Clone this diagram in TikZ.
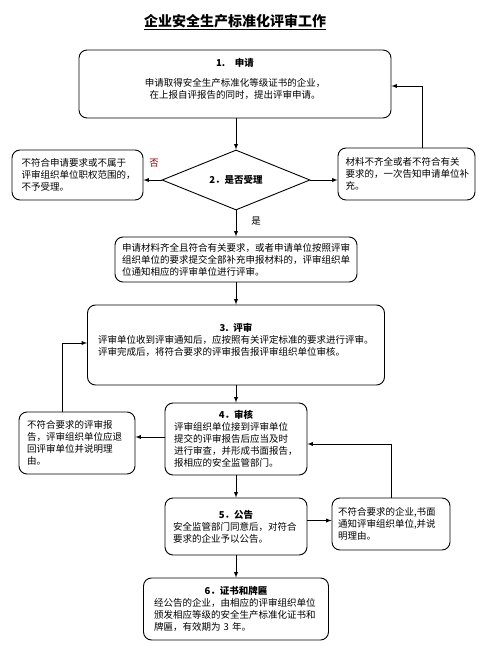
\documentclass[tikz,border=0pt]{standalone}
\usepackage{fontspec}
\setmainfont{Noto Sans CJK SC}
\usepackage{tikz}
\usetikzlibrary{shapes.geometric}
\usetikzlibrary{arrows}
\newcommand{\boxtitle}[1]{{\centering\bfseries #1\par}}
\tikzset{
procbox/.style={ % Sets the properties for each step box
draw, line width=0.9pt, rounded corners=8pt,
align=left, inner sep=0pt,
font=\fontsize{9.5}{12}\selectfont},
sidebox/.style={ % Side boxes for rejected cases
procbox},
choice/.style={ % The decision diamond
diamond, draw, line width=0.9pt, inner sep=0pt,
font=\fontsize{9.5}{12}\selectfont\bfseries},
flow/.style={ % Sets the properties for each connector
draw, ->, >=latex, line width=0.9pt}}

\begin{document}
\begin{tikzpicture}[x=1pt,y=-1pt]
\useasboundingbox (0,0) rectangle (497,652);
\node[font=\fontsize{14}{16}\selectfont\bfseries] (title) at (235,22) {\underline{企业安全生产标准化评审工作}};
\node[procbox, align=center, minimum width=312pt, minimum height=68pt] (apply) at (235,84)
{\textbf{1.　申请}\\[8pt]申请取得安全生产标准化等级证书的企业，\\在上报自评报告的同时，提出评审申请。\\ \mbox{}};
\node[choice, minimum width=148pt, minimum height=60pt, aspect=2.47] (decide) at (236,180) {2．是否受理};
\node[sidebox, text width=112pt, minimum width=131pt, minimum height=50pt] (reject) at (77.5,175)
{不符合申请要求或不属于\\评审组织单位职权范围的，\\不予受理。};
\node[sidebox, text width=122pt, minimum width=137pt, minimum height=52pt] (supplement) at (406.5,174)
{材料不齐全或者不符合有关\\要求的，一次告知申请单位补\\充。};
\node[procbox, text width=228pt, minimum width=242pt, minimum height=45pt] (accept) at (236,259.5)
{申请材料齐全且符合有关要求，或者申请单位按照评审\\组织单位的要求提交全部补充申报材料的，评审组织单\\位通知相应的评审单位进行评审。};
\node[procbox, text width=276pt, minimum width=297pt, minimum height=80pt] (review) at (236,345)
{\boxtitle{3. 评审}评审单位收到评审通知后，应按照有关评定标准的要求进行评审。\\评审完成后，将符合要求的评审报告报评审组织单位审核。\\ \mbox{}};
\node[procbox, text width=124pt, minimum width=142pt, minimum height=72pt] (audit) at (236,439)
{\boxtitle{4．审核}评审组织单位接到评审单位\\提交的评审报告后应当及时\\进行审查，并形成书面报告，\\报相应的安全监管部门。};
\node[sidebox, text width=100pt, minimum width=116pt, minimum height=62pt] (returnbox) at (77,443)
{不符合要求的评审报\\告，评审组织单位应退\\回评审单位并说明理\\由。};
\node[procbox, text width=126pt, minimum width=142pt, minimum height=57pt] (notice) at (236,526.5)
{\boxtitle{5．公告}安全监管部门同意后，对符合\\要求的企业予以公告。};
\node[sidebox, text width=106pt, minimum width=118pt, minimum height=52pt] (denybox) at (391,524)
{不符合要求的企业,书面\\通知评审组织单位,并说\\明理由。};
\node[procbox, text width=164pt, minimum width=185pt, minimum height=62pt] (certify) at (236,609)
{\boxtitle{6．证书和牌匾}经公告的企业，由相应的评审组织单位\\颁发相应等级的安全生产标准化证书和\\牌匾，有效期为 3 年。};
\node[font=\fontsize{9.5}{12}\selectfont, text=red!55!black] (no) at (154,163) {否};
\node[font=\fontsize{9.5}{12}\selectfont] (yes) at (256,221) {是};
\draw[flow] (decide.north |- apply.south) -- (decide.north);
\draw[flow] (decide.west) -- (decide.west -| reject.east);
\draw[flow] (decide.east) -- (decide.east -| supplement.west);
\draw[flow] ([xshift=16pt]supplement.north) |- ([yshift=-2pt]apply.east);
\draw[flow] (decide.south) -- (accept.north);
\draw[flow] (accept.south) -- (review.north);
\draw[flow] (review.south) -- (audit.north);
\draw[flow] ([yshift=2pt]audit.west) -- ([yshift=2pt]audit.west -| returnbox.east);
\draw[flow] ([xshift=-15pt]returnbox.north) |- ([yshift=2pt]review.west);
\draw[flow] (audit.south) -- (notice.north);
\draw[flow] ([yshift=6pt]notice.east) -- ([yshift=6pt]notice.east -| denybox.west);
\draw[flow] (denybox.north) |- ([yshift=-5pt]audit.east);
\draw[flow] (notice.south) -- (certify.north);
\end{tikzpicture}
\end{document}
